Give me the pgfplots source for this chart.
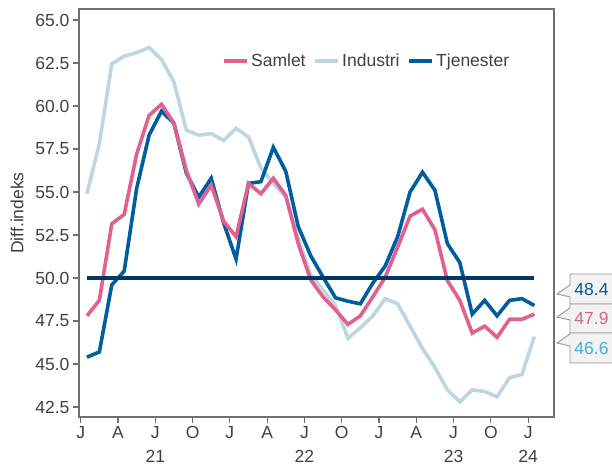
\documentclass[border=0pt]{standalone}
\usepackage{fontspec}
\setmainfont{Liberation Sans}
\usepackage{pgfplots}
\pgfplotsset{compat=1.18}
\usepackage{pgfplotstable}

\definecolor{samlet}{RGB}{224,96,144}
\definecolor{industri}{RGB}{188,214,226}
\definecolor{tjen}{RGB}{0,94,160}
\definecolor{navy}{RGB}{0,56,100}
\definecolor{axisgray}{RGB}{112,112,112}
\definecolor{txt}{RGB}{64,64,64}
\definecolor{skyb}{RGB}{64,176,224}
\definecolor{boxfill}{RGB}{242,242,242}
\definecolor{boxline}{RGB}{150,150,150}

% months since Jan 2021, plotted mid-month
\pgfplotstableread{
x    samlet industri tjenester
0.5  47.8   54.9     45.4
1.5  48.7   57.8     45.7
2.5  53.15  62.45    49.6
3.5  53.7   62.9     50.4
4.5  57.2   63.1     55.2
5.5  59.45  63.4     58.3
6.5  60.1   62.7     59.7
7.5  59.0   61.4     59.0
8.5  56.25  58.6     56.1
9.5  54.3   58.3     54.7
10.5 55.4   58.4     55.8
11.5 53.3   58.0     53.2
12.5 52.4   58.7     51.1
13.5 55.5   58.2     55.5
14.5 54.9   56.4     55.6
15.5 55.8   55.5     57.6
16.5 54.8   54.7     56.2
17.5 52.0   52.3     53.0
18.5 49.9   50.2     51.3
19.5 48.9   49.3     50.05
20.5 48.15  48.4     48.85
21.5 47.3   46.5     48.65
22.5 47.8   47.1     48.5
23.5 48.9   47.8     49.7
24.5 50.05  48.8     50.7
25.5 51.8   48.5     52.4
26.5 53.6   47.2     55.0
27.5 54.0   45.9     56.15
28.5 52.8   44.8     55.1
29.5 49.85  43.5     52.0
30.5 48.7   42.8     50.9
31.5 46.8   43.5     47.9
32.5 47.2   43.4     48.7
33.5 46.55  43.1     47.8
34.5 47.6   44.2     48.7
35.5 47.6   44.4     48.8
36.5 47.9   46.6     48.4
}\pmi

\newcommand\callout[5]{% top, bottom, tip y, colour, text
  \fill[boxfill] (533,#1) -- (491,#1) -- (491,#3+9) -- (478,#3) -- (491,#3-3) -- (491,#2) -- (533,#2) -- cycle;
  \draw[boxline, line width=0.9pt] (533,#1) -- (491,#1) -- (491,#3+9) -- (478,#3) -- (491,#3-3) -- (491,#2) -- (533,#2);
  \node[text=#4, anchor=center] at (512.5,{(#1+#2)/2}) {#5};
}

\begin{document}
\begin{tikzpicture}[font=\fontsize{17.5}{24}\selectfont]
\begin{axis}[
  name=ax,
  scale only axis,
  width=475pt, height=408pt,
  xmin=-0.137, xmax=38.08,
  ymin=41.92, ymax=65.64,
  axis line style={axisgray, line width=1.2pt},
  tick style={axisgray, line width=1.2pt},
  major tick length=6pt,
  tick align=outside,
  xtick pos=left, ytick pos=left,
  xtick={0,3,...,36},
  xticklabels={J,A,{J\\21},O,J,A,{J\\22},O,J,A,{J\\23},O,{J\\24}},
  x tick label style={align=center},
  ytick={42.5,45,47.5,50,52.5,55,57.5,60,62.5,65},
  yticklabel style={/pgf/number format/fixed, /pgf/number format/fixed zerofill, /pgf/number format/precision=1},
  /pgf/number format/assume math mode=true,
  tick label style={text=txt},
  ylabel={Diff.indeks},
  ylabel style={at={(axis description cs:-0.1305,0.5)}, anchor=center, text=txt},
  legend style={at={(0.606,0.873)}, anchor=center, draw=none, fill=none,
    legend columns=-1, text=txt,
    /tikz/every even column/.append style={column sep=6pt}},
  legend image code/.code={\draw[#1] (0pt,0pt) -- (23pt,0pt);},
  every axis plot/.append style={line width=3.6pt},
]
\addlegendimage{samlet, line width=3.6pt}
\addlegendentry{Samlet}
\addlegendimage{industri, line width=3.6pt}
\addlegendentry{Industri}
\addlegendimage{tjen, line width=3.6pt}
\addlegendentry{Tjenester}

\addplot[industri, forget plot] table[x=x, y=industri] {\pmi};
\addplot[tjen, forget plot] table[x=x, y=tjenester] {\pmi};
\addplot[samlet, forget plot] table[x=x, y=samlet] {\pmi};
\addplot[navy, forget plot] coordinates {(0.5,50) (36.5,50)};
\end{axis}

\begin{scope}[shift={(ax.south west)}, x=1pt, y=1pt]
  \callout{143}{113}{123}{tjen}{48.4}
  \callout{113}{84}{100}{samlet}{47.9}
  \callout{84}{54}{74}{skyb}{46.6}
  \pgfresetboundingbox
  \path (-79,-53) rectangle (533,417);
\end{scope}
\end{tikzpicture}
\end{document}
